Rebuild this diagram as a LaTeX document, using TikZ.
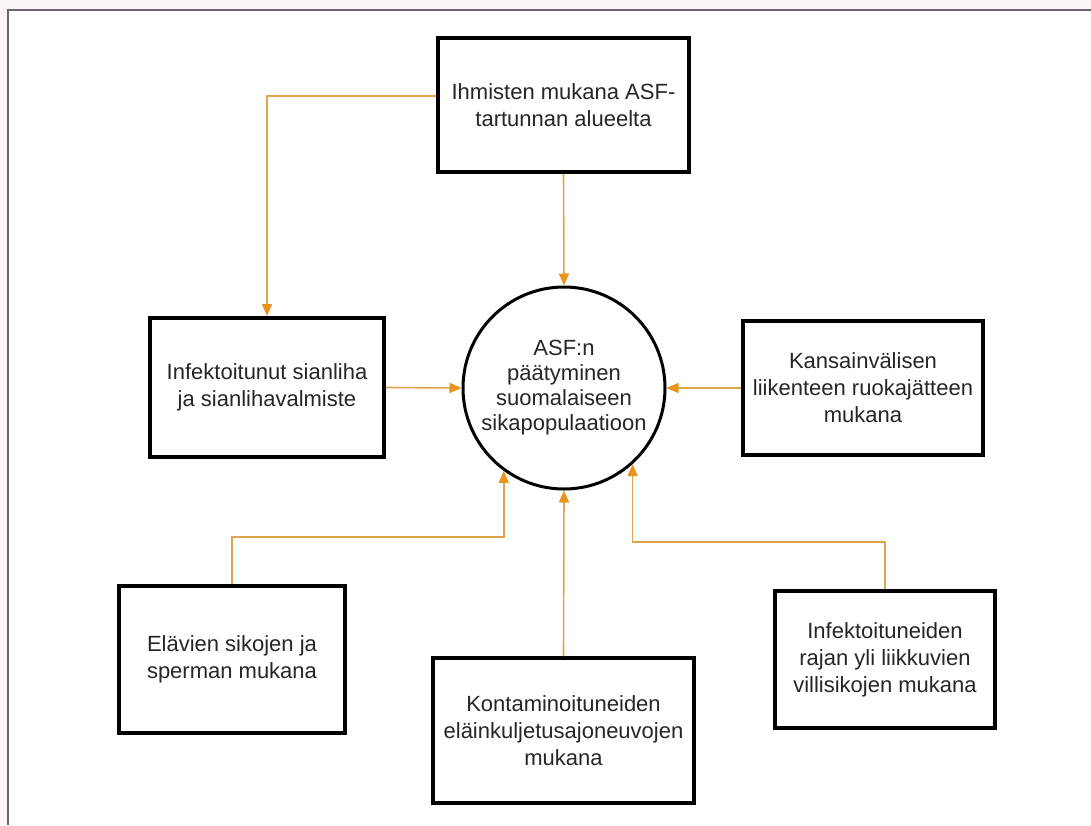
\documentclass[tikz,border=0pt]{standalone}
\usepackage{fontspec}
\setmainfont{Liberation Sans}
\usepackage{tikz}
\usetikzlibrary{arrows.meta,positioning,calc}
\definecolor{asfframe}{HTML}{6B6470}
\definecolor{asfline}{HTML}{DFA54C}
\definecolor{asfhead}{HTML}{E8941C}
\definecolor{asfback}{HTML}{FCF6FA}
\tikzset{
  srcbox/.style={draw,line width=2pt,fill=white,align=center,text=black!85,inner sep=2pt},
  flow/.style={asfline,line width=0.8pt,-{Triangle[length=6pt,width=5pt,color=asfhead]}}
}

\begin{document}
\begin{tikzpicture}[x=0.5pt,y=-0.5pt,font=\fontsize{11}{13.5}\selectfont]
    \fill[asfback] (0,0) rectangle (1091,825);
    \fill[white] (8,10) rectangle (1091,825);
    \useasboundingbox (0,0) rectangle (1091,825);
    \draw[asfframe,line width=0.8pt] (8,825) -- (8,10) -- (1091,10);
    \node[srcbox,minimum width=125.5pt,minimum height=67pt] (hum) at (563.5,105) {Ihmisten mukana ASF-\\tartunnan alueelta};
    \node[srcbox,minimum width=117pt,minimum height=69.5pt] (liha) at (267,387.5) {Infektoitunut sianliha\\ja sianlihavalmiste};
    \node[srcbox,minimum width=120pt,minimum height=67pt] (ruoka) at (863,388) {Kansainvälisen\\liikenteen ruokajätteen\\mukana};
    \node[draw,circle,line width=1.5pt,minimum size=101pt,align=center,text=black!85,inner sep=0pt,
      font=\fontsize{11}{12.5}\selectfont] (asf) at (564,388) {ASF:n\\päätyminen\\suomalaiseen\\sikapopulaatioon};
    \node[srcbox,minimum width=113pt,minimum height=73.5pt] (elav) at (232,659.5) {Elävien sikojen ja\\sperman mukana};
    \node[srcbox,minimum width=130.5pt,minimum height=72.5pt] (kont) at (563.5,730.5) {Kontaminoituneiden\\eläinkuljetusajoneuvojen\\mukana};
    \node[srcbox,minimum width=110pt,minimum height=68.5pt] (vill) at (885,659.5) {Infektoituneiden\\rajan yli liikkuvien\\villisikojen mukana};
    \draw[flow] ([yshift=4.5pt]hum.west) -| (liha.north);
    \draw[flow] (hum.south) -- (asf.north);
    \draw[flow] (liha.east) -- (asf.west);
    \draw[flow] (ruoka.west) -- (asf.east);
    \draw[flow] (elav.north) -- ++(0,23.5pt) -| (asf.234);
    \draw[flow] (kont.north) -- (asf.south);
    \draw[flow] (vill.north) -- ++(0,23.5pt) -| (asf.312);
  \end{tikzpicture}
\end{document}
